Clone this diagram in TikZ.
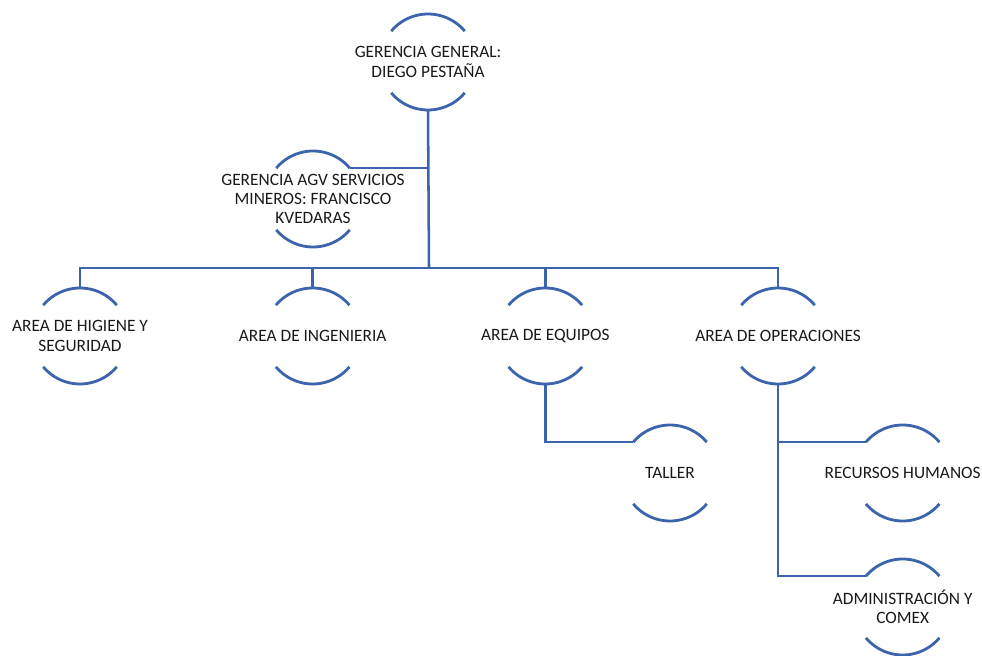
\documentclass[tikz,border=0pt]{standalone}
\usepackage{fontspec}
\setmainfont{Carlito}
\usetikzlibrary{positioning}
\definecolor{orgblue}{RGB}{59,100,173}

\begin{document}
\begin{tikzpicture}[x=0.75pt,y=-0.75pt,node distance=174.5pt,
	org node/.style={align=center,font=\fontsize{13}{14.5}\selectfont,text=black!90,inner sep=0pt},
	arc line/.style={draw=orgblue,line width=2.1pt},
	link/.style={draw=orgblue,line width=1.9pt}]
	
	\useasboundingbox (0,0) rectangle (982,656);
	
	\node[org node] (gg) at (428,62) {GERENCIA GENERAL:\\DIEGO PESTAÑA};
	\node[org node] (agv) at (313,199) {GERENCIA AGV SERVICIOS\\MINEROS: FRANCISCO\\KVEDARAS};
	\node[org node] (hig) at (80,336) {AREA DE HIGIENE Y\\SEGURIDAD};
	\node[org node] (ing) [right of=hig] {AREA DE INGENIERIA};
	\node[org node] (equ) [right of=ing] {AREA DE EQUIPOS};
	\node[org node] (ope) [right of=equ] {AREA DE OPERACIONES};
	\node[org node] (tal) at (670,473) {TALLER};
	\node[org node] (rrhh) [right of=tal] {RECURSOS HUMANOS};
	\node[org node] (adm) [below of=rrhh,node distance=100.5pt] {ADMINISTRACIÓN Y\\COMEX};
	
	% arcs above and below each text
	\foreach \n in {gg,agv,hig,ing,equ,ope,tal,rrhh,adm}{
		\draw[arc line] ([shift={(40:36pt)}]\n.center) arc[start angle=40,end angle=140,radius=36pt];
		\draw[arc line] ([shift={(220:36pt)}]\n.center) arc[start angle=220,end angle=320,radius=36pt];
	}
	
	\coordinate (bus) at (429,268);
	\coordinate (agv join) at ([shift={(40:36pt)}]agv.center);
	
	\draw[link] ([yshift=-36pt]gg.center) -- (bus);
	\draw[link] (agv join) -- (agv join -| gg.center);
	\foreach \n in {hig,ing,equ,ope}
		\draw[link] ([yshift=36pt]\n.center) |- (bus);
	\draw[link] ([yshift=-36pt]equ.center) |- ([shift={(140:36pt)}]tal.center);
	\draw[link] ([yshift=-36pt]ope.center) |- ([shift={(140:36pt)}]rrhh.center);
	\draw[link] ([yshift=-36pt]ope.center) |- ([shift={(140:36pt)}]adm.center);
\end{tikzpicture}
\end{document}
